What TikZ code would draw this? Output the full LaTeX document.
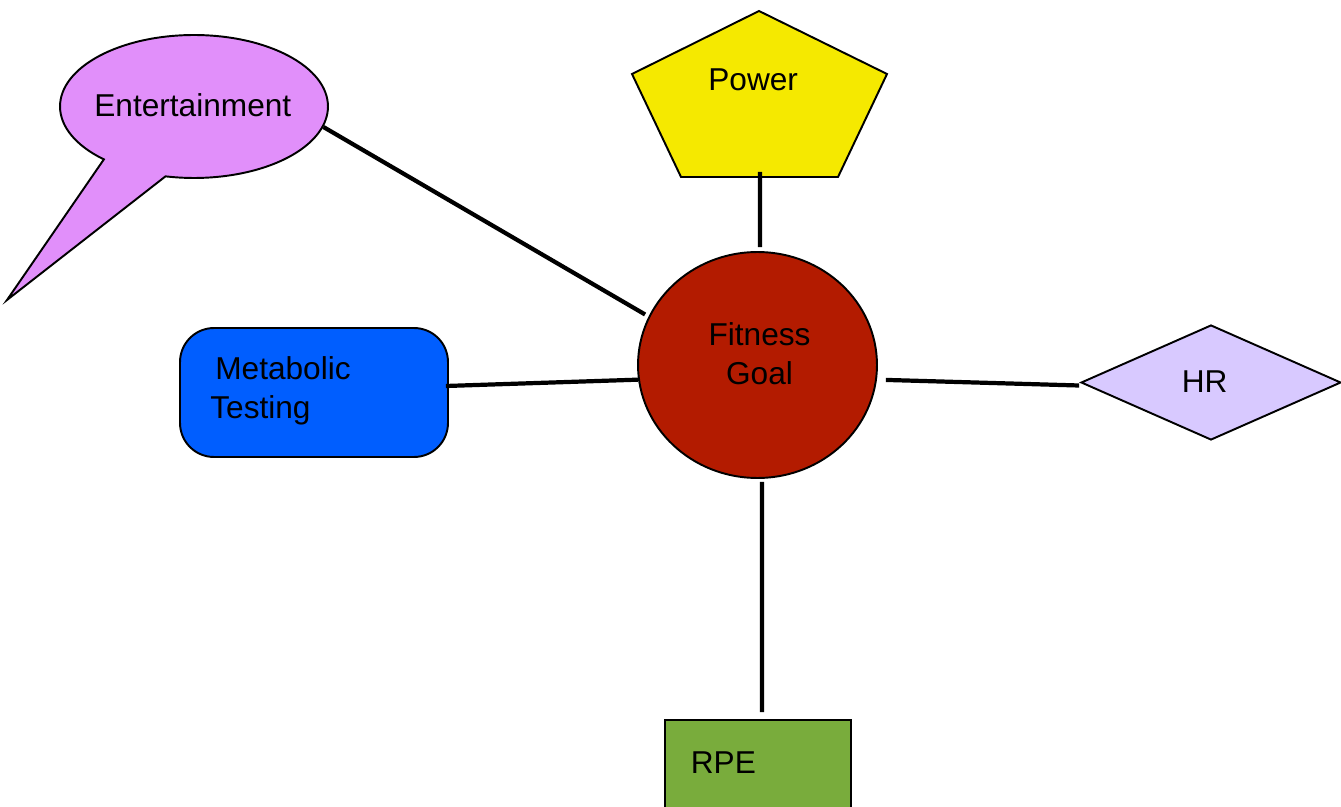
\documentclass[tikz,border=0pt]{standalone}
\usepackage{fontspec}
\setmainfont{Liberation Sans}
\usepackage{tikz}
\usetikzlibrary{shapes.geometric,shapes.callouts}
\usetikzlibrary{positioning}
\definecolor{bubblepink}{RGB}{225,143,250}
\definecolor{poweryellow}{RGB}{245,233,0}
\definecolor{goalred}{RGB}{179,27,0}
\definecolor{metablue}{RGB}{0,94,255}
\definecolor{hrlilac}{RGB}{216,201,255}
\definecolor{rpegreen}{RGB}{121,172,60}
\tikzset{
  shapebox/.style={draw=black, line width=1.1pt, inner sep=0pt},
  link/.style={line width=2.4pt},
  lbl/.style={font=\fontsize{18}{22}\selectfont, inner sep=0pt},
}

\begin{document}
\begin{tikzpicture}[x=0.02cm, y=-0.02cm]
% Rahmen
\useasboundingbox (0,0) rectangle (1341,807);
\clip (0,0) rectangle (1341,807);

% Formen
\node[shapebox, ellipse callout, fill=bubblepink, minimum width=5.36cm, minimum height=2.86cm,
      callout absolute pointer={(7,300)}, callout pointer arc=30] (ent) at (194,106.5) {};
\draw[shapebox, fill=poweryellow] (759,11) -- (887,74) -- (838,177) -- (681,177) -- (632,74) -- cycle;
\coordinate (powbase) at (760,172);
\node[shapebox, ellipse, fill=goalred, minimum width=4.78cm, minimum height=4.52cm] (goal) at (757.5,365) {};
\node[shapebox, rectangle, rounded corners=0.68cm, fill=metablue, minimum width=5.36cm, minimum height=2.58cm] (meta) at (314,392.5) {};
\node[shapebox, diamond, fill=hrlilac, minimum width=5.2cm, minimum height=2.3cm] (hr) at (1211,382.5) {};
\node[shapebox, rectangle, fill=rpegreen, minimum width=3.72cm, minimum height=4cm] (rpe) at (758,820) {};

% Texte
\node[lbl, anchor=base west] (enttext) at (94,117) {Entertainment};
\node[lbl, anchor=base west] (powtext) at (708,91) {Power};
\node[lbl, align=center] (goaltext) at (759.5,354) {Fitness\\Goal};
\node[lbl, anchor=west, align=left] (metatext) at (210,391) {\hspace*{0.1cm}Metabolic\\Testing};
\node[lbl, anchor=base west] (hrtext) at (1181.5,392) {HR};
\node[lbl, anchor=base west] (rpetext) at (690.5,773) {RPE};

% Verbindungen
\draw[link, shorten >=0.08cm] (ent.-9.5) -- (goal.156);
\draw[link] (powbase) -- ([shift={(2.5,-4)}]goal.north);
\draw[link] ([shift={(-3,-6.5)}]meta.east) -- (goal.187.6);
\draw[link, shorten <=0.18cm] (goal.-7) -- ([shift={(-1,3)}]hr.west);
\draw[link] ([shift={(4.5,3)}]goal.south) -- ([shift={(4,-7)}]rpe.north);
\end{tikzpicture}
\end{document}
